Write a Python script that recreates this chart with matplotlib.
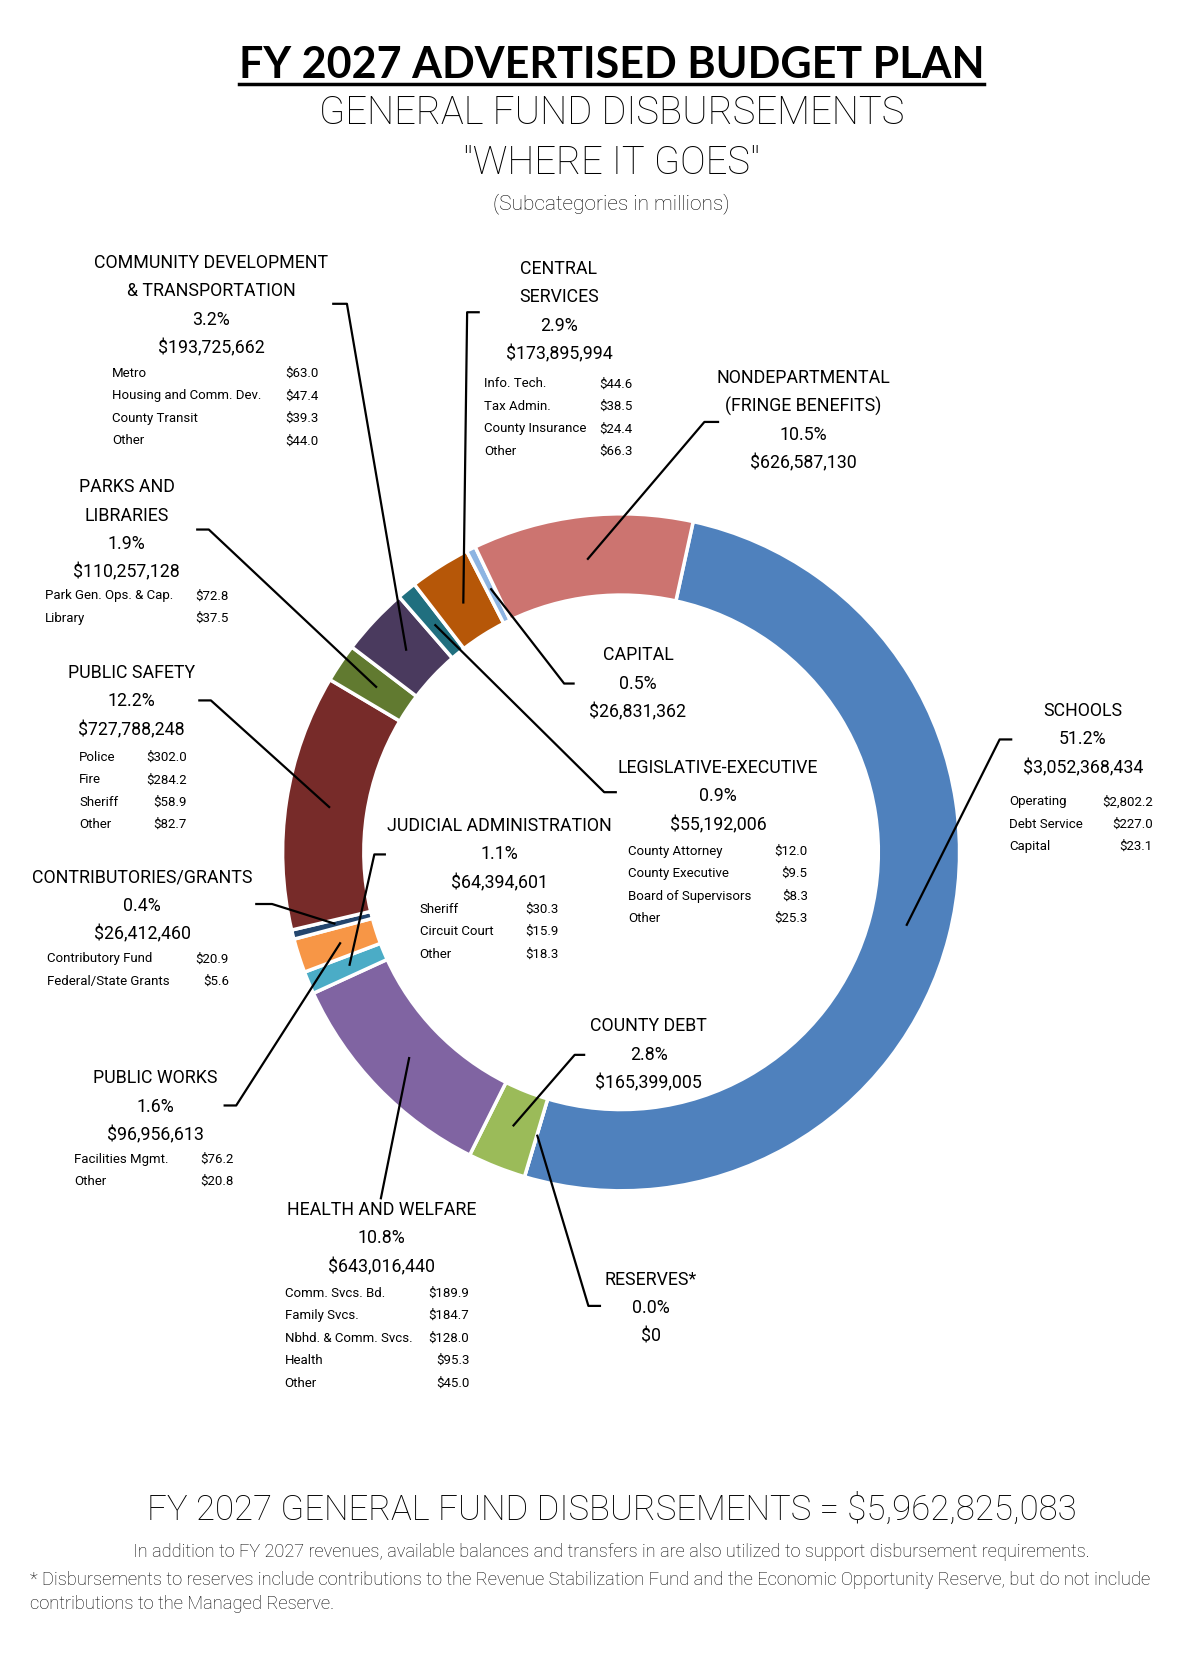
import matplotlib.pyplot as plt
import numpy as np

# --- данные (по часовой стрелке от SCHOOLS) ---
names = ["SCHOOLS", "RESERVES*", "COUNTY DEBT", "HEALTH AND WELFARE",
         "JUDICIAL ADMINISTRATION", "PUBLIC WORKS", "CONTRIBUTORIES/GRANTS",
         "PUBLIC SAFETY", "PARKS AND\nLIBRARIES",
         "COMMUNITY DEVELOPMENT\n& TRANSPORTATION", "LEGISLATIVE-EXECUTIVE",
         "CENTRAL\nSERVICES", "CAPITAL", "NONDEPARTMENTAL\n(FRINGE BENEFITS)"]
amounts = [3052368434, 0, 165399005, 643016440, 64394601, 96956613, 26412460,
           727788248, 110257128, 193725662, 55192006, 173895994, 26831362,
           626587130]
percents = [51.2, 0.0, 2.8, 10.8, 1.1, 1.6, 0.4, 12.2, 1.9, 3.2, 0.9, 2.9, 0.5, 10.5]
colors = ["#4F81BD", "#4F81BD", "#9BBB59", "#8064A2", "#4BACC6", "#F79646",
          "#24466E", "#772B29", "#617A30", "#4A3A5E", "#206F7F", "#B65708",
          "#8DB4E2", "#CC7470"]

sub_names = [
    ["Operating", "Debt Service", "Capital"],
    [],
    [],
    ["Comm. Svcs. Bd.", "Family Svcs.", "Nbhd. & Comm. Svcs.", "Health", "Other"],
    ["Sheriff", "Circuit Court", "Other"],
    ["Facilities Mgmt.", "Other"],
    ["Contributory Fund", "Federal/State Grants"],
    ["Police", "Fire", "Sheriff", "Other"],
    ["Park Gen. Ops. & Cap.", "Library"],
    ["Metro", "Housing and Comm. Dev.", "County Transit", "Other"],
    ["County Attorney", "County Executive", "Board of Supervisors", "Other"],
    ["Info. Tech.", "Tax Admin.", "County Insurance", "Other"],
    [],
    [],
]
sub_values = [
    ["$2,802.2", "$227.0", "$23.1"],
    [],
    [],
    ["$189.9", "$184.7", "$128.0", "$95.3", "$45.0"],
    ["$30.3", "$15.9", "$18.3"],
    ["$76.2", "$20.8"],
    ["$20.9", "$5.6"],
    ["$302.0", "$284.2", "$58.9", "$82.7"],
    ["$72.8", "$37.5"],
    ["$63.0", "$47.4", "$39.3", "$44.0"],
    ["$12.0", "$9.5", "$8.3", "$25.3"],
    ["$44.6", "$38.5", "$24.4", "$66.3"],
    [],
    [],
]
total = 5962825083

# --- разметка подписей: центр x, y первой строки, колонки подпунктов, отвод (x0, x1, y) ---
layout = [
    dict(cx=1027, y=674, sx=(957, 1093), sy=760, stub=(960, 948, 701)),
    dict(cx=617, y=1213, sx=None, sy=None, stub=(570, 558, 1238)),
    dict(cx=615, y=973, sx=None, sy=None, stub=(555, 545, 1000)),
    dict(cx=362, y=1147, sx=(270, 445), sy=1226, stub=(361, 361, 1137)),
    dict(cx=474, y=783, sx=(398, 530), sy=862, stub=(366, 355, 810)),
    dict(cx=147, y=1022, sx=(70, 222), sy=1099, stub=(212, 224, 1048)),
    dict(cx=135, y=832, sx=(45, 217), sy=909, stub=(242, 258, 857)),
    dict(cx=125, y=638, sx=(75, 177), sy=718, stub=(188, 200, 664)),
    dict(cx=120, y=462, sx=(43, 217), sy=565, stub=(186, 198, 502)),
    dict(cx=200, y=249, sx=(106, 302), sy=354, stub=(315, 329, 288)),
    dict(cx=681, y=728, sx=(596, 766), sy=807, stub=(585, 573, 751)),
    dict(cx=530, y=255, sx=(459, 600), sy=364, stub=(455, 443, 296)),
    dict(cx=605, y=621, sx=None, sy=None, stub=(545, 535, 648)),
    dict(cx=762, y=358, sx=None, sy=None, stub=(682, 668, 400)),
]

LAB = ['Roboto', 'DejaVu Sans']
TXT = 'black'
W, H = 1138, 1568

fig = plt.figure(figsize=(12, 16.54), dpi=100)

# кольцевая диаграмма
cx0, cy0, R = 589, 808, 321
pax = fig.add_axes([cx0 / W - R / W, 1 - cy0 / H - R / H, 2 * R / W, 2 * R / H])
wedges, _ = pax.pie(amounts, colors=colors, startangle=77.7, counterclock=False,
                    radius=1, wedgeprops=dict(width=0.24, edgecolor='white', linewidth=2.5))
pax.set_xlim(-1, 1)
pax.set_ylim(-1, 1)
pax.set_aspect('equal')

# слой для текста и линий
bg = fig.add_axes([0, 0, 1, 1])
bg.set_xlim(0, W)
bg.set_ylim(H, 0)
bg.axis('off')


def ring_pt(w, r=0.87):
    th = np.deg2rad((w.theta1 + w.theta2) / 2)
    disp = pax.transData.transform((r * np.cos(th), r * np.sin(th)))
    return bg.transData.inverted().transform(disp)


step = 27
sub_step = 21.3
for i in range(len(names)):
    L = layout[i]
    lines = names[i].split('\n') + [f"{percents[i]:.1f}%", f"${amounts[i]:,.0f}"]
    for k, s in enumerate(lines):
        bg.text(L['cx'], L['y'] + k * step, s, ha='center', va='center',
                fontsize=12.8, family=LAB, color=TXT)
    if L['sx'] is not None:
        for k in range(len(sub_names[i])):
            yy = L['sy'] + k * sub_step
            bg.text(L['sx'][0], yy, sub_names[i][k], ha='left', va='center',
                    fontsize=9.5, family=LAB, color=TXT)
            bg.text(L['sx'][1], yy, sub_values[i][k], ha='right', va='center',
                    fontsize=9.5, family=LAB, color=TXT)
    x0, x1, ys = L['stub']
    px, py = ring_pt(wedges[i])
    bg.plot([x0, x1, px], [ys, ys, py], color='black', lw=1.6, solid_capstyle='butt')

# заголовки
t = bg.text(580, 62, "FY 2027 ADVERTISED BUDGET PLAN", ha='center', va='center',
            fontsize=31, fontweight='bold', family=['Lato', 'DejaVu Sans'], color='black')
bg.text(580, 107, "GENERAL FUND DISBURSEMENTS", ha='center', va='center',
        fontsize=27.5, family=LAB, fontweight='light', color=TXT)
bg.text(580, 155, '"WHERE IT GOES"', ha='center', va='center',
        fontsize=27.5, family=LAB, fontweight='light', color=TXT)
bg.text(580, 193, "(Subcategories in millions)", ha='center', va='center',
        fontsize=15, family=LAB, fontweight='light', color=TXT)

# подчёркивание заголовка
fig.canvas.draw()
bb = t.get_window_extent(renderer=fig.canvas.get_renderer())
(ux0, _), (ux1, _) = bg.transData.inverted().transform([(bb.x0, 0), (bb.x1, 0)])
bg.plot([ux0, ux1], [80, 80], color='black', lw=2.5)

# итог и примечания
bg.text(580, 1432, f"FY 2027 GENERAL FUND DISBURSEMENTS = ${total:,.0f}", ha='center',
        va='center', fontsize=25, family=LAB, fontweight='light', color=TXT)
bg.text(580, 1471, "In addition to FY 2027 revenues, available balances and transfers in are "
        "also utilized to support disbursement requirements.", ha='center', va='center',
        fontsize=13.1, family=LAB, fontweight='light', color=TXT)
bg.text(28, 1498, "* Disbursements to reserves include contributions to the Revenue Stabilization "
        "Fund and the Economic Opportunity Reserve, but do not include", ha='left',
        va='center', fontsize=13.2, family=LAB, fontweight='light', color=TXT)
bg.text(28, 1521, "contributions to the Managed Reserve.", ha='left', va='center',
        fontsize=13.2, family=LAB, fontweight='light', color=TXT)

fig.savefig('out.png', dpi=100, facecolor='white')
